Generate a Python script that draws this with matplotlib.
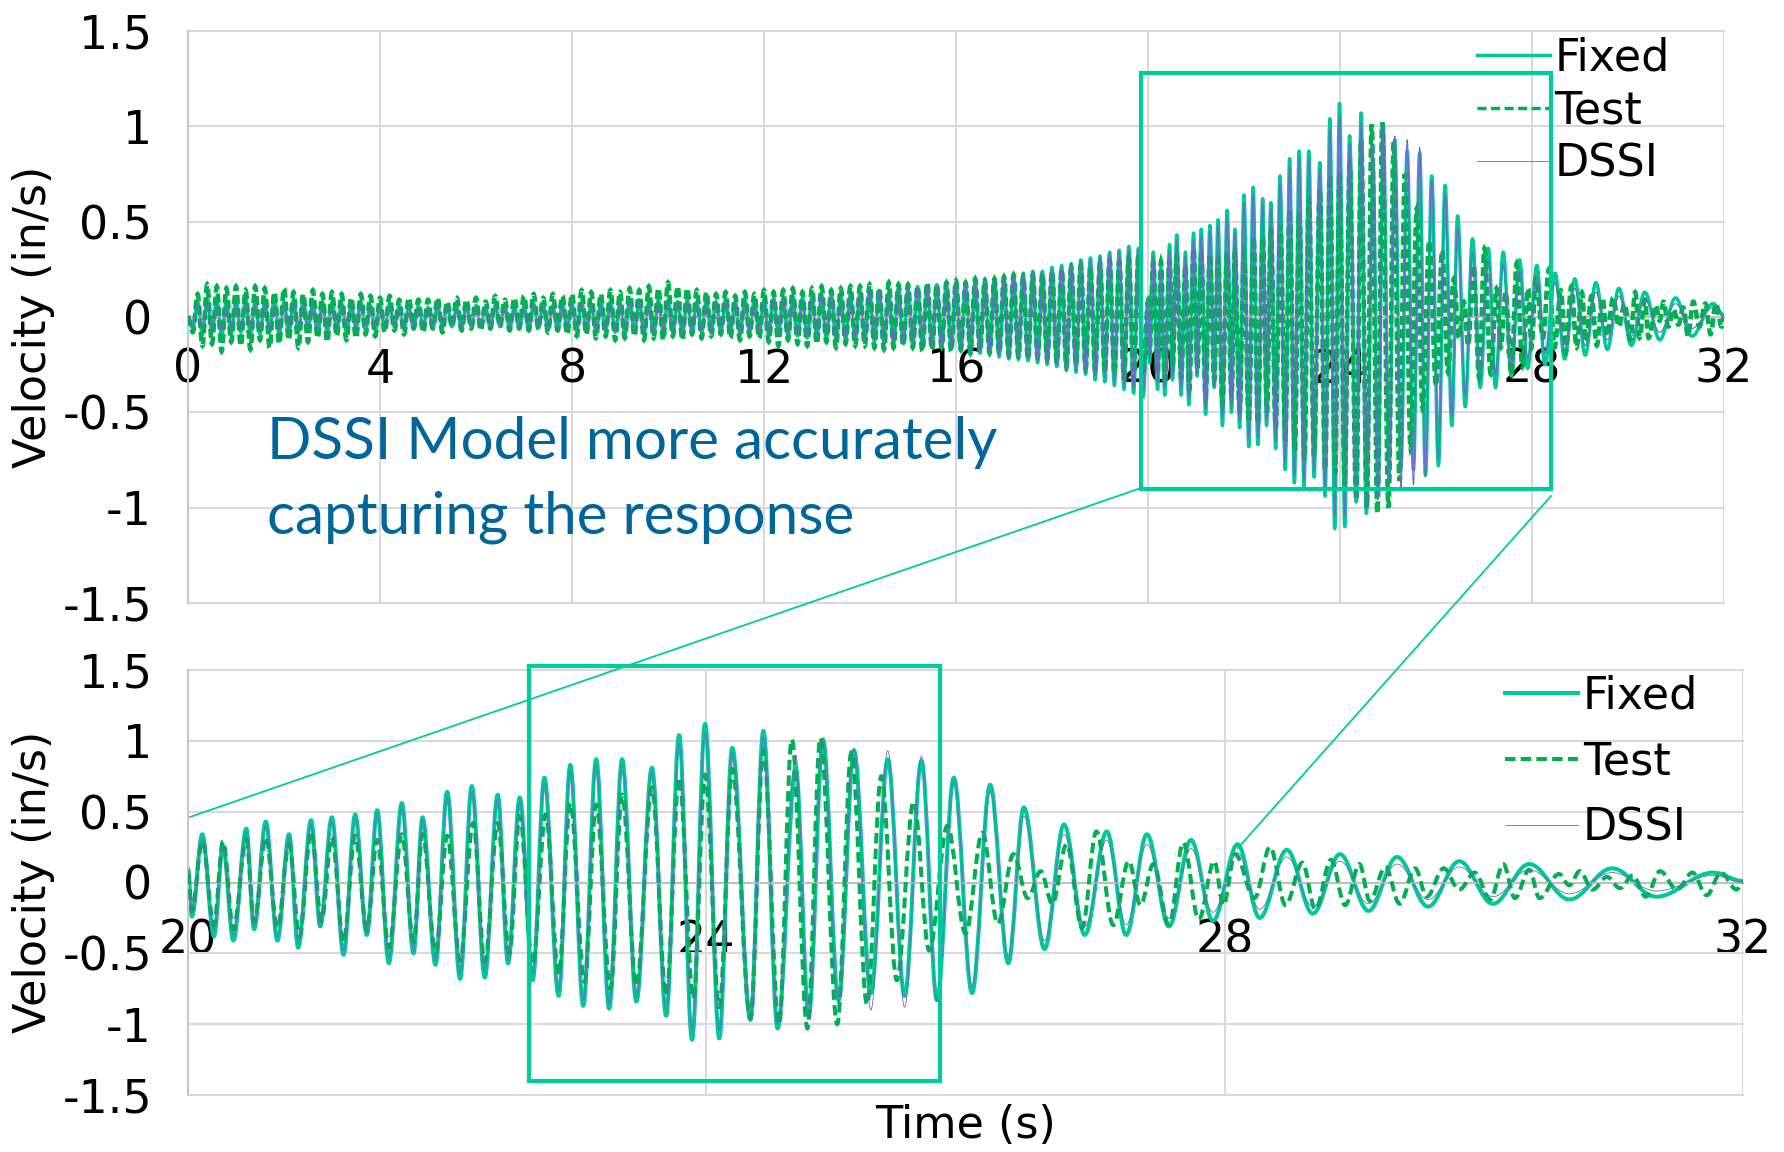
import numpy as np
import matplotlib.pyplot as plt
from matplotlib.lines import Line2D
from matplotlib.patches import Rectangle, PathPatch
from matplotlib.path import Path

# -----------------------------
# Datos
# -----------------------------
# tramo 0-20 s: extremos con muestreo fijo
early_dt = 0.1

fixed_early = [
    0.00, -0.06, 0.08, -0.09, 0.10, -0.08, 0.09, -0.10, 0.08, -0.09,
    0.09, -0.08, 0.10, -0.09, 0.08, -0.09, 0.09, -0.08, 0.10, -0.09,
    0.08, -0.09, 0.09, -0.08, 0.09, -0.07, 0.08, -0.09, 0.08, -0.08,
    0.08, -0.07, 0.07, -0.08, 0.07, -0.06, 0.08, -0.07, 0.06, -0.07,
    0.06, -0.06, 0.07, -0.05, 0.06, -0.06, 0.05, -0.06, 0.06, -0.05,
    0.05, -0.06, 0.06, -0.05, 0.06, -0.05, 0.05, -0.06, 0.06, -0.05,
    0.06, -0.05, 0.05, -0.06, 0.06, -0.05, 0.06, -0.06, 0.05, -0.06,
    0.06, -0.07, 0.07, -0.06, 0.07, -0.07, 0.06, -0.07, 0.07, -0.06,
    0.07, -0.07, 0.08, -0.08, 0.07, -0.08, 0.08, -0.07, 0.08, -0.08,
    0.08, -0.09, 0.09, -0.08, 0.09, -0.09, 0.08, -0.09, 0.09, -0.08,
    0.09, -0.08, 0.08, -0.09, 0.09, -0.08, 0.08, -0.08, 0.09, -0.08,
    0.08, -0.08, 0.09, -0.08, 0.08, -0.09, 0.09, -0.08, 0.09, -0.09,
    0.09, -0.10, 0.10, -0.09, 0.10, -0.10, 0.11, -0.10, 0.10, -0.11,
    0.11, -0.11, 0.12, -0.11, 0.12, -0.12, 0.11, -0.12, 0.12, -0.12,
    0.13, -0.13, 0.14, -0.13, 0.14, -0.14, 0.13, -0.14, 0.15, -0.14,
    0.15, -0.15, 0.16, -0.15, 0.16, -0.16, 0.17, -0.16, 0.17, -0.17,
    0.18, -0.18, 0.18, -0.19, 0.19, -0.19, 0.20, -0.19, 0.20, -0.21,
    0.21, -0.22, 0.22, -0.22, 0.23, -0.23, 0.24, -0.24, 0.24, -0.25,
    0.26, -0.26, 0.27, -0.28, 0.28, -0.29, 0.30, -0.30, 0.31, -0.33,
    0.32, -0.34, 0.34, -0.36, 0.35, -0.38, 0.37, -0.40, 0.36, -0.42,
]

test_early = [
    0.00, -0.08, 0.12, -0.15, 0.17, -0.14, 0.16, -0.18, 0.15, -0.13,
    0.16, -0.15, 0.14, -0.17, 0.16, -0.12, 0.15, -0.16, 0.13, -0.14,
    0.15, -0.12, 0.13, -0.16, 0.12, -0.13, 0.14, -0.11, 0.12, -0.13,
    0.13, -0.10, 0.12, -0.12, 0.10, -0.11, 0.12, -0.09, 0.11, -0.10,
    0.10, -0.08, 0.11, -0.07, 0.09, -0.09, 0.10, -0.06, 0.09, -0.08,
    0.09, -0.06, 0.10, -0.08, 0.08, -0.05, 0.10, -0.07, 0.09, -0.06,
    0.10, -0.07, 0.08, -0.06, 0.11, -0.05, 0.09, -0.07, 0.10, -0.06,
    0.11, -0.07, 0.12, -0.06, 0.10, -0.08, 0.12, -0.07, 0.11, -0.09,
    0.12, -0.10, 0.14, -0.09, 0.13, -0.11, 0.12, -0.10, 0.14, -0.12,
    0.13, -0.11, 0.15, -0.10, 0.14, -0.12, 0.16, -0.11, 0.15, -0.12,
    0.18, -0.10, 0.16, -0.12, 0.15, -0.09, 0.14, -0.11, 0.13, -0.10,
    0.12, -0.09, 0.13, -0.11, 0.11, -0.12, 0.13, -0.10, 0.12, -0.11,
    0.14, -0.13, 0.13, -0.15, 0.14, -0.12, 0.15, -0.14, 0.13, -0.15,
    0.15, -0.14, 0.16, -0.13, 0.14, -0.16, 0.15, -0.14, 0.16, -0.15,
    0.16, -0.15, 0.17, -0.16, 0.15, -0.17, 0.18, -0.16, 0.17, -0.15,
    0.17, -0.16, 0.16, -0.18, 0.18, -0.17, 0.17, -0.16, 0.18, -0.18,
    0.19, -0.17, 0.18, -0.19, 0.20, -0.18, 0.19, -0.19, 0.20, -0.19,
    0.21, -0.20, 0.22, -0.21, 0.21, -0.22, 0.22, -0.21, 0.23, -0.22,
    0.24, -0.24, 0.25, -0.26, 0.26, -0.25, 0.27, -0.27, 0.26, -0.28,
    0.28, -0.29, 0.30, -0.30, 0.29, -0.32, 0.31, -0.33, 0.32, -0.31,
]

dssi_early = [
    0.00, -0.04, 0.06, -0.06, 0.07, -0.06, 0.06, -0.07, 0.06, -0.06,
    0.07, -0.06, 0.06, -0.07, 0.06, -0.06, 0.07, -0.06, 0.06, -0.07,
    0.06, -0.06, 0.07, -0.06, 0.06, -0.05, 0.06, -0.06, 0.05, -0.06,
    0.05, -0.05, 0.06, -0.05, 0.05, -0.05, 0.06, -0.05, 0.05, -0.05,
    0.05, -0.04, 0.05, -0.05, 0.04, -0.05, 0.05, -0.04, 0.05, -0.04,
    0.04, -0.05, 0.05, -0.04, 0.05, -0.04, 0.04, -0.05, 0.05, -0.04,
    0.05, -0.04, 0.04, -0.05, 0.05, -0.04, 0.05, -0.05, 0.04, -0.05,
    0.05, -0.05, 0.06, -0.05, 0.05, -0.06, 0.05, -0.05, 0.06, -0.05,
    0.06, -0.06, 0.07, -0.06, 0.06, -0.07, 0.07, -0.06, 0.07, -0.07,
    0.07, -0.07, 0.08, -0.07, 0.08, -0.08, 0.07, -0.08, 0.08, -0.07,
    0.08, -0.07, 0.07, -0.08, 0.08, -0.07, 0.07, -0.07, 0.08, -0.07,
    0.07, -0.07, 0.08, -0.07, 0.07, -0.08, 0.08, -0.07, 0.08, -0.08,
    0.08, -0.09, 0.09, -0.08, 0.09, -0.09, 0.10, -0.09, 0.09, -0.10,
    0.10, -0.10, 0.11, -0.10, 0.11, -0.11, 0.10, -0.11, 0.11, -0.11,
    0.12, -0.12, 0.13, -0.12, 0.13, -0.13, 0.12, -0.13, 0.14, -0.13,
    0.14, -0.14, 0.15, -0.14, 0.15, -0.15, 0.16, -0.15, 0.16, -0.16,
    0.17, -0.17, 0.17, -0.18, 0.18, -0.18, 0.19, -0.18, 0.19, -0.20,
    0.20, -0.21, 0.21, -0.21, 0.22, -0.22, 0.23, -0.23, 0.23, -0.24,
    0.25, -0.25, 0.26, -0.27, 0.27, -0.28, 0.29, -0.29, 0.30, -0.31,
    0.31, -0.32, 0.33, -0.34, 0.34, -0.36, 0.35, -0.38, 0.35, -0.40,
]

fixed_late_t = [
    20.00, 20.03, 20.11, 20.20, 20.27, 20.35, 20.45, 20.51, 20.60, 20.69,
    20.78, 20.85, 20.95, 21.02, 21.11, 21.20, 21.29, 21.38, 21.46, 21.55,
    21.65, 21.74, 21.81, 21.91, 22.00, 22.10, 22.19, 22.29, 22.39, 22.47,
    22.56, 22.66, 22.75, 22.86, 22.95, 23.05, 23.15, 23.25, 23.35, 23.46,
    23.58, 23.69, 23.79, 23.89, 23.99, 24.10, 24.20, 24.34, 24.44, 24.55,
    24.69, 24.79, 24.90, 25.02, 25.14, 25.27, 25.40, 25.53, 25.66, 25.78,
    25.91, 26.05, 26.19, 26.33, 26.45, 26.61, 26.76, 26.92, 27.09, 27.24,
    27.40, 27.57, 27.74, 27.91, 28.10, 28.27, 28.48, 28.68, 28.89, 29.11,
    29.33, 29.57, 29.81, 30.07, 30.35, 30.66, 30.99, 31.33, 31.77, 32.00,
]
fixed_late_v = [
    0.10, -0.24, 0.34, -0.38, 0.26, -0.41, 0.38, -0.33, 0.43, -0.41,
    0.34, -0.46, 0.44, -0.31, 0.46, -0.51, 0.48, -0.37, 0.51, -0.57,
    0.56, -0.50, 0.46, -0.58, 0.64, -0.68, 0.68, -0.67, 0.62, -0.57,
    0.60, -0.69, 0.74, -0.80, 0.83, -0.87, 0.87, -0.89, 0.87, -0.84,
    0.81, -0.94, 1.04, -1.11, 1.12, -1.10, 0.95, -0.97, 1.07, -1.03,
    0.81, -0.94, 1.01, -0.83, 0.93, -0.78, 0.87, -0.80, 0.86, -0.83,
    0.74, -0.78, 0.69, -0.57, 0.53, -0.47, 0.41, -0.37, 0.36, -0.37,
    0.34, -0.31, 0.30, -0.27, 0.27, -0.25, 0.23, -0.22, 0.20, -0.20,
    0.18, -0.17, 0.15, -0.15, 0.13, -0.12, 0.10, -0.10, 0.07, 0.01,
]

test_late_t = [
    20.00, 20.03, 20.11, 20.20, 20.27, 20.35, 20.45, 20.51, 20.60, 20.69,
    20.78, 20.86, 20.95, 21.03, 21.11, 21.20, 21.29, 21.38, 21.46, 21.55,
    21.65, 21.74, 21.81, 21.91, 22.00, 22.10, 22.20, 22.29, 22.39, 22.48,
    22.56, 22.66, 22.76, 22.86, 22.95, 23.06, 23.15, 23.26, 23.35, 23.46,
    23.58, 23.69, 23.79, 23.90, 23.99, 24.10, 24.20, 24.34, 24.44, 24.56,
    24.66, 24.78, 24.88, 25.01, 25.12, 25.24, 25.35, 25.47, 25.60, 25.72,
    25.86, 26.00, 26.13, 26.25, 26.37, 26.48, 26.58, 26.67, 26.78, 26.90,
    27.01, 27.14, 27.26, 27.35, 27.45, 27.57, 27.68, 27.80, 27.92, 27.99,
    28.08, 28.23, 28.35, 28.47, 28.60, 28.70, 28.82, 28.93, 29.04, 29.12,
    29.24, 29.35, 29.47, 29.56, 29.69, 29.81, 29.93, 30.05, 30.15, 30.24,
    30.35, 30.43, 30.58, 30.66, 30.74, 30.84, 30.95, 31.05, 31.15, 31.25,
    31.36, 31.49, 31.61, 31.72, 31.83, 31.95, 32.00,
]
test_late_v = [
    0.08, -0.20, 0.29, -0.30, 0.29, -0.33, 0.30, -0.28, 0.32, -0.32,
    0.27, -0.38, 0.36, -0.27, 0.32, -0.42, 0.33, -0.33, 0.30, -0.46,
    0.34, -0.42, 0.34, -0.49, 0.33, -0.55, 0.42, -0.56, 0.42, -0.50,
    0.47, -0.58, 0.48, -0.65, 0.56, -0.70, 0.55, -0.75, 0.62, -0.73,
    0.67, -0.80, 0.74, -0.82, 0.76, -0.88, 0.80, -0.96, 0.93, -1.00,
    1.01, -1.03, 1.02, -1.00, 0.92, -0.86, 0.75, -0.69, 0.57, -0.48,
    0.40, -0.36, 0.35, -0.29, 0.20, -0.11, 0.08, -0.15, 0.27, -0.32,
    0.36, -0.30, 0.15, -0.16, 0.13, -0.30, 0.28, -0.26, 0.15, -0.16,
    0.20, -0.11, 0.25, -0.16, 0.14, -0.19, 0.16, -0.16, 0.13, -0.13,
    0.11, -0.15, 0.10, -0.10, 0.10, -0.05, 0.07, -0.12, 0.13, -0.11,
    0.09, -0.11, 0.06, -0.02, 0.08, -0.05, 0.04, -0.04, 0.05, -0.10,
    0.08, -0.05, 0.07, -0.09, 0.07, -0.05, 0.00,
]

# DSSI usa los mismos instantes que Fixed en 20-32 s
dssi_late_v = [
    0.09, -0.22, 0.31, -0.34, 0.25, -0.37, 0.35, -0.31, 0.40, -0.38,
    0.32, -0.43, 0.41, -0.30, 0.43, -0.48, 0.45, -0.36, 0.48, -0.53,
    0.52, -0.48, 0.44, -0.55, 0.60, -0.64, 0.64, -0.63, 0.59, -0.55,
    0.57, -0.65, 0.70, -0.76, 0.79, -0.83, 0.83, -0.85, 0.83, -0.81,
    0.78, -0.90, 0.98, -1.04, 1.05, -1.04, 0.92, -0.95, 1.02, -1.00,
    0.90, -0.96, 1.00, -0.86, 0.95, -0.90, 0.93, -0.88, 0.89, -0.84,
    0.72, -0.74, 0.64, -0.52, 0.47, -0.41, 0.34, -0.31, 0.30, -0.30,
    0.27, -0.25, 0.24, -0.21, 0.21, -0.19, 0.18, -0.17, 0.15, -0.15,
    0.13, -0.12, 0.11, -0.10, 0.09, -0.08, 0.07, -0.06, 0.05, 0.00,
]

series_names = ["Fixed", "Test", "DSSI"]
y_ticks = [-1.5, -1, -0.5, 0, 0.5, 1, 1.5]
y_labels = ["-1.5", "-1", "-0.5", "0", "0.5", "1", "1.5"]
x_ticks_top = [0, 4, 8, 12, 16, 20, 24, 28, 32]
x_ticks_bot = [20, 24, 28, 32]

# -----------------------------
# Series completas
# -----------------------------
fixed_t = np.concatenate([np.arange(len(fixed_early)) * early_dt, fixed_late_t])
fixed_v = np.concatenate([fixed_early, fixed_late_v])
test_t = np.concatenate([np.arange(len(test_early)) * early_dt, test_late_t])
test_v = np.concatenate([test_early, test_late_v])
dssi_t = np.concatenate([np.arange(len(dssi_early)) * early_dt, fixed_late_t])
dssi_v = np.concatenate([dssi_early, dssi_late_v])

# -----------------------------
# Estilo
# -----------------------------
c_fixed = "#00C896"
c_test = "#00B050"
c_dssi = "#6A6AD0"
c_box = "#00CC99"
c_grid = "#D9D9D9"
c_note = "#006699"

plt.rcParams["font.family"] = "DejaVu Sans"

W, H = 1784, 1152
fig = plt.figure(figsize=(W / 100, H / 100), dpi=100)


def ejes_px(left, top, right, bottom):
    return fig.add_axes([left / W, 1 - bottom / H, (right - left) / W, (bottom - top) / H])


def estilo(ax, xt, xpad):
    ax.set_xlim(xt[0], xt[-1])
    ax.set_ylim(-1.5, 1.5)
    ax.set_xticks(xt)
    ax.set_xticklabels([str(v) for v in xt])
    ax.set_yticks(y_ticks)
    ax.set_yticklabels(y_labels)
    ax.grid(True, color=c_grid, lw=1.5)
    for g in ax.get_xgridlines() + ax.get_ygridlines():
        g.set_clip_on(False)
    ax.set_axisbelow(True)
    ax.spines["top"].set_visible(False)
    ax.spines["right"].set_visible(False)
    ax.spines["bottom"].set_position(("data", 0))
    ax.spines["bottom"].set_color("#BFBFBF")
    ax.spines["bottom"].set_linewidth(1.5)
    ax.spines["left"].set_color("#C8C8C8")
    ax.spines["left"].set_linewidth(1.5)
    ax.tick_params(length=0, labelsize=33)
    ax.tick_params(axis="y", pad=26)
    ax.tick_params(axis="x", pad=xpad)


def linea_suave(t, v):
    # línea suavizada (como la opción "smoothed line" de Excel) entre picos y valles
    verts = [(t[0], v[0])]
    codes = [Path.MOVETO]
    for i in range(1, len(t)):
        d = (t[i] - t[i - 1]) * 0.36
        verts += [(t[i - 1] + d, v[i - 1]), (t[i] - d, v[i]), (t[i], v[i])]
        codes += [Path.CURVE4] * 3
    return Path(verts, codes)


def curvas(ax, lw_f, lw_t, dash, lw_d):
    ax.add_patch(PathPatch(linea_suave(fixed_t, fixed_v), fill=False, ec=c_fixed,
                           lw=lw_f, joinstyle="round", zorder=2))
    ax.add_patch(PathPatch(linea_suave(test_t, test_v), fill=False, ec=c_test,
                           lw=lw_t, ls=dash, zorder=3))
    ax.add_patch(PathPatch(linea_suave(dssi_t, dssi_v), fill=False, ec=c_dssi,
                           lw=lw_d, zorder=4))
    return [Line2D([], [], color=c_fixed, lw=lw_f),
            Line2D([], [], color=c_test, lw=lw_f, ls=(0, (2.6, 1.3))),
            Line2D([], [], color=c_dssi, lw=0.6)]


# -----------------------------
# Gráfica superior (0-32 s)
# -----------------------------
ax1 = ejes_px(188, 31, 1724, 603)
estilo(ax1, x_ticks_top, 22)
h1 = curvas(ax1, 2.5, 3.3, (0, (2.0, 0.9)), 0.8)
ax1.legend(h1, series_names, loc="upper left", bbox_to_anchor=(0.839, 0.99), frameon=False,
           fontsize=32, handlelength=1.65, handletextpad=0.1, labelspacing=0.22,
           borderpad=0, borderaxespad=0)
ax1.add_patch(Rectangle((19.85, -0.90), 8.55, 2.18, fill=False, ec=c_box, lw=3,
                        zorder=6, clip_on=False))

# -----------------------------
# Gráfica inferior (20-32 s)
# -----------------------------
ax2 = ejes_px(188, 670, 1743, 1095)
estilo(ax2, x_ticks_bot, 26)
h2 = curvas(ax2, 2.9, 2.9, (0, (2.6, 1.3)), 0.6)
ax2.legend(h2, series_names, loc="upper left", bbox_to_anchor=(0.847, 0.99), frameon=False,
           fontsize=32, handlelength=1.65, handletextpad=0.1, labelspacing=0.52,
           borderpad=0, borderaxespad=0)
ax2.add_patch(Rectangle((22.63, -1.40), 3.17, 2.93, fill=False, ec=c_box, lw=3,
                        zorder=6, clip_on=False))

# líneas de conexión del zoom
fig.add_artist(Line2D([1141 / W, 190 / W], [1 - 488 / H, 1 - 817 / H], color=c_box, lw=1.3))
fig.add_artist(Line2D([1551 / W, 1238 / W], [1 - 496 / H, 1 - 848 / H], color=c_box, lw=1.3))

# textos
fig.text(267 / W, 1 - 416 / H, "DSSI Model more accurately\ncapturing the response",
         color=c_note, fontsize=42, family=["Lato", "DejaVu Sans"], va="top", ha="left",
         linespacing=1.5)
fig.text(34 / W, 1 - 317 / H, "Velocity (in/s)", rotation=90, fontsize=32,
         ha="center", va="center")
fig.text(34 / W, 1 - 882 / H, "Velocity (in/s)", rotation=90, fontsize=32,
         ha="center", va="center")
fig.text(965 / W, 1 - 1126 / H, "Time (s)", fontsize=32, ha="center", va="center")

fig.savefig("out.png", dpi=100)
